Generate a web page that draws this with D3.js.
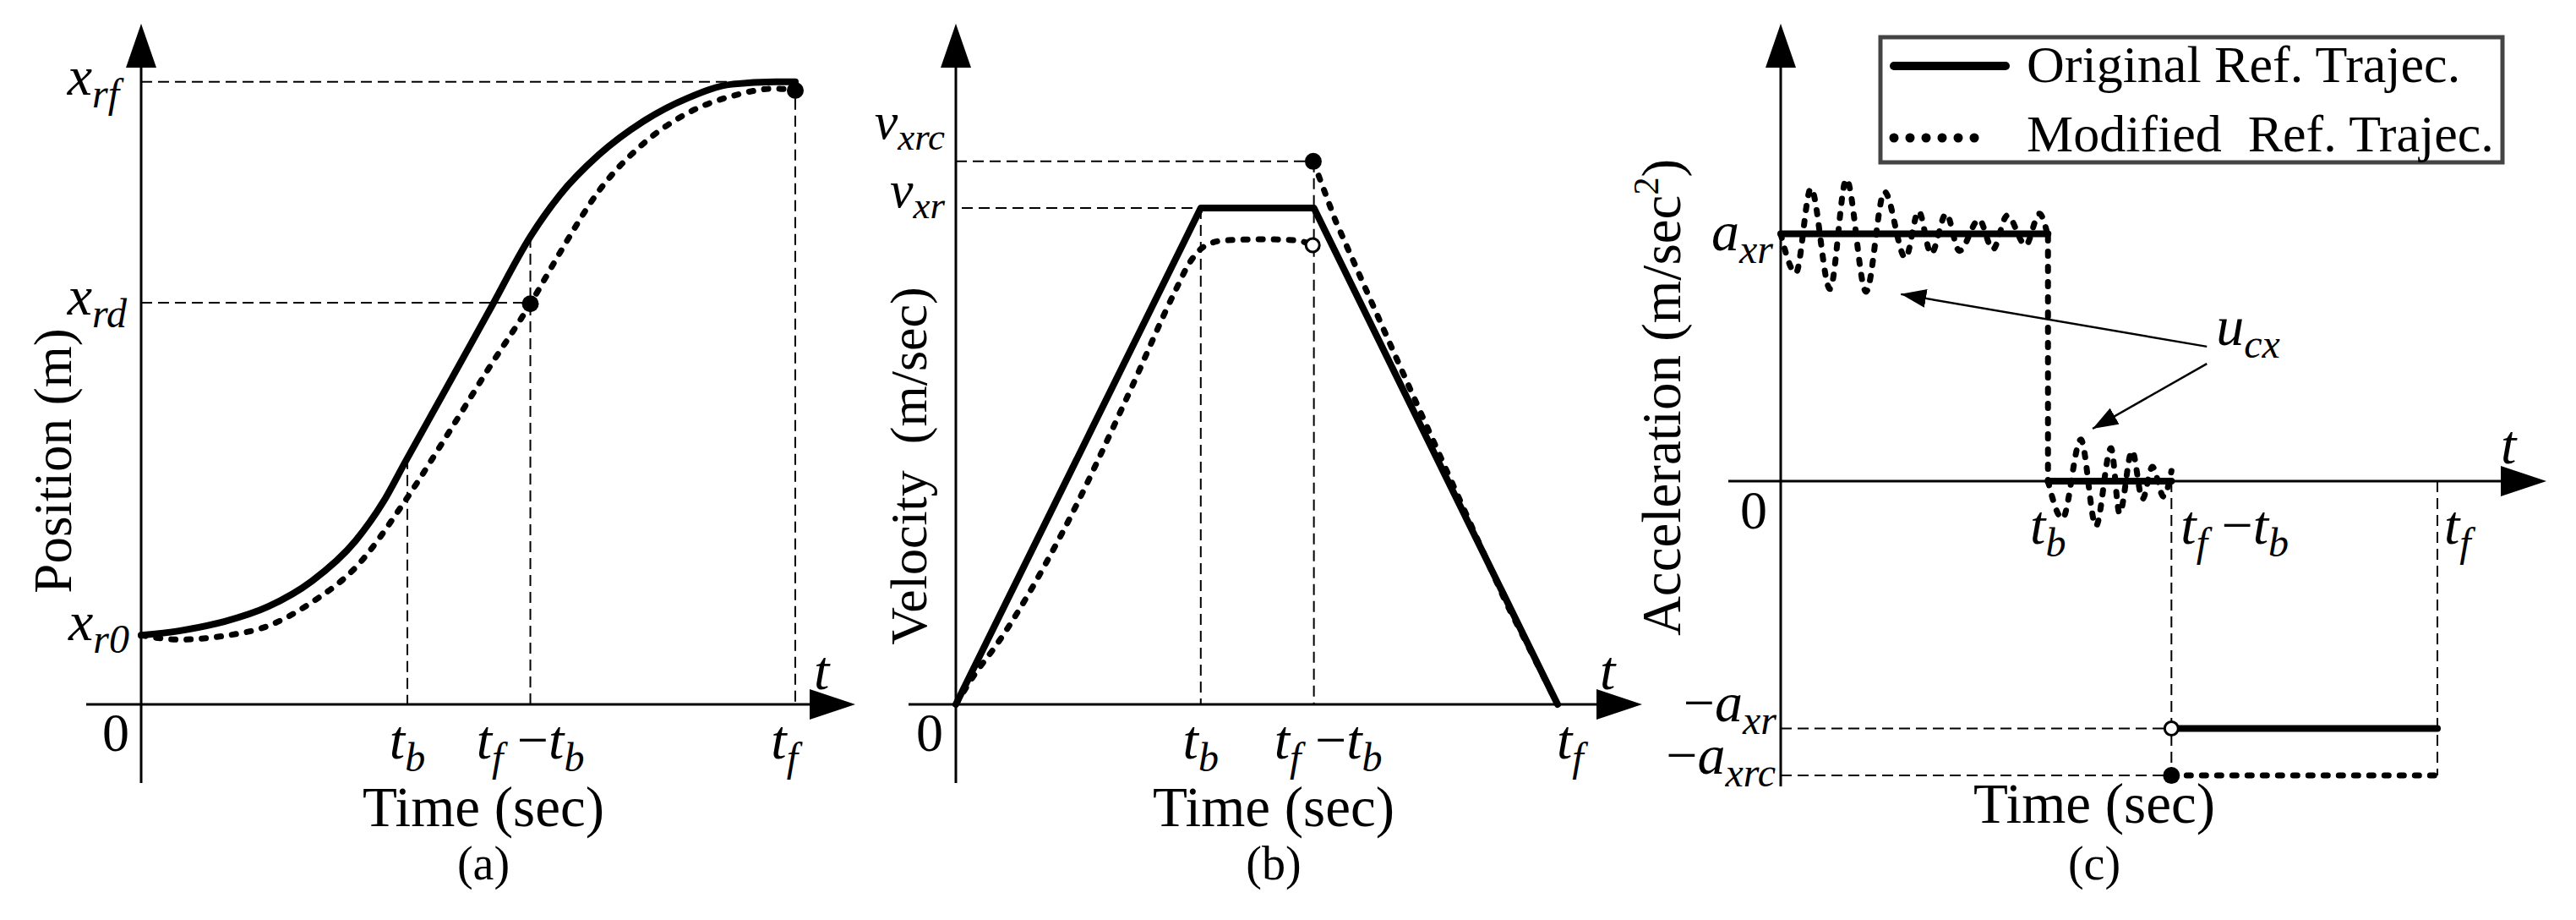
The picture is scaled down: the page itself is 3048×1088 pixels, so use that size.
<!DOCTYPE html>
<html>
<head>
<meta charset="utf-8">
<script src="https://cdn.jsdelivr.net/npm/d3@7"></script>
<style>
  html, body { margin: 0; padding: 0; background: #fff; }
  svg { display: block; }
</style>
</head>
<body>
<svg id="chart"></svg>
<script>
// time ticks: t_b, t_f - t_b, t_f  (t_f scaled to 10)
const timeTicks = [4.07, 5.95, 10];

// (a) position levels: x_r0, x_rd, x_rf  (x_rf scaled to 10)
const posLevels = [1.11, 6.45, 10];
const posOrigTime = [0, 0.58, 1.27, 1.94, 2.61, 3.28, 3.70, 4.03, 4.64, 5.31, 5.96, 6.40, 7.00, 7.67, 8.36, 9.03, 9.70, 10];
const posOriginal = [1.11, 1.18, 1.33, 1.57, 1.98, 2.63, 3.25, 3.88, 5.03, 6.30, 7.53, 8.18, 8.83, 9.36, 9.74, 9.96, 10.0, 10.0];
const posModTime = [0, 0.58, 1.27, 1.94, 2.61, 3.28, 4.03, 4.64, 5.31, 5.96, 6.40, 7.00, 7.67, 8.36, 9.03, 9.70, 10];
const posModified = [1.11, 1.04, 1.10, 1.26, 1.64, 2.20, 3.26, 4.26, 5.39, 6.45, 7.25, 8.25, 9.00, 9.50, 9.77, 9.89, 9.86];

// (b) velocity levels: v_xr, v_xrc  (v_xr scaled to 10)
const velLevels = [10, 10.94];
const velOrigTime = [0, 4.07, 5.95, 10];
const velOriginal = [0, 10, 10, 0];
const velModUpTime = [0, 0.31, 0.67, 1.77, 2.87, 3.65, 3.89, 4.16, 4.48, 5.14, 5.65, 5.93];
const velModUp = [0, 0.60, 1.19, 3.46, 6.25, 8.34, 8.91, 9.25, 9.35, 9.37, 9.35, 9.25];
const velModDownTime = [5.94, 6.31, 7.33, 8.10, 9.13, 10];
const velModDown = [10.94, 9.74, 6.95, 4.86, 2.08, 0];

// (c) acceleration levels: a_xr, -a_xr, -a_xrc  (a_xr scaled to 10)
const accLevels = [10, -10, -11.9];
const accOrigTime = [[0, 4.07], [4.07, 5.95], [5.95, 10]];
const accOriginal = [10, 0, -10];
const accModTime1 = [0, 0.23, 0.46, 0.75, 1.00, 1.30, 1.58, 1.90, 2.10, 2.29, 2.52, 2.72, 3.02, 3.23, 3.45, 3.73, 3.94, 4.07];
const accMod1 = [10.0, 8.42, 11.84, 7.77, 12.21, 7.66, 11.70, 9.03, 10.91, 9.20, 10.81, 9.31, 10.57, 9.37, 10.74, 9.54, 10.81, 9.9];
const accModTime2 = [4.07, 4.29, 4.57, 4.80, 5.03, 5.16, 5.35, 5.51, 5.66, 5.83, 5.95];
const accMod2 = [0, -1.51, 1.68, -1.81, 1.33, -1.30, 1.23, -0.72, 0.58, -0.62, 0.41];
const accModTailTime = [5.95, 10];
const accModTail = [-11.9, -11.9];

// u_cx annotation: label point, arrow tails and tips (data units of panel c)
const ucxLabel = [6.63, 5.5];
const ucxArrows = [[[6.49, 5.44], [1.83, 7.56]], [[6.49, 4.75], [4.75, 2.12]]];

const legendNames = ['Original Ref. Trajec.', 'Modified  Ref. Trajec.'];

const W = 3048, H = 1088;
const FONT = '"Liberation Serif", "Times New Roman", Times, "DejaVu Serif", serif';
const MAIN = 66, SUB = 48, SUBDY = 15;
const [tb, tfmtb, tf] = timeTicks;

const svg = d3.select('#chart').attr('width', W).attr('height', H)
  .attr('font-family', FONT);

svg.append('defs').append('marker')
  .attr('id', 'ah')
  .attr('viewBox', '0 0 30 22')
  .attr('refX', 30).attr('refY', 11)
  .attr('markerWidth', 30).attr('markerHeight', 22)
  .attr('markerUnits', 'userSpaceOnUse')
  .attr('orient', 'auto')
  .append('path').attr('d', 'M0,0L30,11L0,22Z').attr('fill', '#000');

function txt(g) {
  return g.append('text').attr('font-family', FONT).attr('fill', '#000')
    .style('white-space', 'pre');
}

// label with italic letters and subscripts
function mathText(g, parts, x, y, anchor, sz) {
  const main = sz ? sz[0] : MAIN, sub = sz ? sz[1] : SUB, subdy = sz ? sz[2] : SUBDY;
  const t = txt(g).attr('x', x).attr('y', y)
    .attr('text-anchor', anchor || 'start');
  let shift = 0;
  parts.forEach(p => {
    const want = p.sub ? subdy : 0;
    t.append('tspan')
      .attr('dy', want - shift)
      .attr('font-size', p.sub ? sub : main)
      .attr('font-style', p.up ? 'normal' : 'italic')
      .text(p.s);
    shift = want;
  });
  return t;
}

const sym = (a, b) => [{ s: a }, { s: b, sub: true }];
const tbParts = sym('t', 'b');
const tfParts = sym('t', 'f');
const tfmtbParts = [{ s: 't' }, { s: 'f', sub: true }, { s: ' \u2212', up: true }, { s: 't' }, { s: 'b', sub: true }];

function drawAxes(g, x0, y0, lay) {
  g.append('line')
    .attr('x1', x0).attr('x2', x0)
    .attr('y1', lay.yTip + 20).attr('y2', lay.yBottom)
    .attr('stroke', '#000').attr('stroke-width', 3);
  g.append('line')
    .attr('x1', lay.xStart).attr('x2', lay.xTip - 20)
    .attr('y1', y0).attr('y2', y0)
    .attr('stroke', '#000').attr('stroke-width', 3);
  g.append('path')
    .attr('d', `M${x0 - 18},${lay.yTip + 52}L${x0},${lay.yTip}L${x0 + 18},${lay.yTip + 52}Z`);
  g.append('path')
    .attr('d', `M${lay.xTip - 54},${y0 - 18}L${lay.xTip},${y0}L${lay.xTip - 54},${y0 + 18}Z`);
}

function guide(g, x1, y1, x2, y2) {
  g.append('line')
    .attr('x1', x1).attr('y1', y1).attr('x2', x2).attr('y2', y2)
    .attr('stroke', '#000').attr('stroke-width', 2)
    .attr('stroke-dasharray', '13,7');
}

function solidPath(g, d) {
  return g.append('path').attr('d', d)
    .attr('fill', 'none').attr('stroke', '#000')
    .attr('stroke-width', 8)
    .attr('stroke-linecap', 'round').attr('stroke-linejoin', 'round');
}

function dashPath(g, d) {
  return g.append('path').attr('d', d)
    .attr('fill', 'none').attr('stroke', '#000')
    .attr('stroke-width', 7)
    .attr('stroke-dasharray', '5,13')
    .attr('stroke-linecap', 'round');
}

function dot(g, cx, cy, open) {
  g.append('circle').attr('cx', cx).attr('cy', cy)
    .attr('r', open ? 8 : 10)
    .attr('fill', open ? '#fff' : '#000')
    .attr('stroke', '#000').attr('stroke-width', open ? 3 : 0);
}

function vTitle(g, s, bx, cy, size) {
  return txt(g)
    .attr('transform', `translate(${bx},${cy}) rotate(-90)`)
    .attr('text-anchor', 'middle')
    .attr('font-size', size)
    .text(s);
}

function bottomText(g, cx, timeY, capY, cap) {
  txt(g).attr('x', cx).attr('y', timeY)
    .attr('text-anchor', 'middle').attr('font-size', 67).text('Time (sec)');
  txt(g).attr('x', cx).attr('y', capY)
    .attr('text-anchor', 'middle').attr('font-size', 56).text(cap);
}

// ---------- (a) position ----------
{
  const g = svg.append('g');
  const x = d3.scaleLinear().domain([0, 10]).range([167, 941]);
  const y = d3.scaleLinear().domain([0, 10]).range([833, 96.7]);
  const line = d3.line().x(d => x(d[0])).y(d => y(d[1])).curve(d3.curveMonotoneX);
  const origAt = d3.scaleLinear().domain(posOrigTime).range(posOriginal);
  const modAt = d3.scaleLinear().domain(posModTime).range(posModified);
  const [r0, rd, rf] = posLevels;

  guide(g, x(0), y(rf), x(tf), y(rf));
  guide(g, x(tf), y(rf), x(tf), y(0));
  guide(g, x(0), y(rd), x(tfmtb), y(rd));
  guide(g, x(tb), y(origAt(tb)), x(tb), y(0));
  guide(g, x(tfmtb), y(origAt(tfmtb)), x(tfmtb), y(0));

  drawAxes(g, x(0), y(0), { xStart: 102, xTip: 1012, yTip: 28, yBottom: 926 });

  solidPath(g, line(d3.zip(posOrigTime, posOriginal)));
  dashPath(g, line(d3.zip(posModTime, posModified)));
  dot(g, x(tfmtb), y(modAt(tfmtb)));
  dot(g, x(tf), y(posModified[posModified.length - 1]));

  mathText(g, sym('x', 'rf'), 141, y(rf) + 15, 'end');
  mathText(g, sym('x', 'rd'), 150, y(rd) + 14, 'end');
  mathText(g, sym('x', 'r0'), 153, y(r0) + 6, 'end');

  const ty = y(0) + 64;
  mathText(g, tbParts, x(tb), ty, 'middle');
  mathText(g, tfmtbParts, x(tfmtb), ty, 'middle');
  mathText(g, tfParts, x(tf) + 3, ty, 'end');
  txt(g).attr('x', 153).attr('y', y(0) + 55)
    .attr('text-anchor', 'end').attr('font-size', 64).text('0');
  txt(g).attr('x', 963).attr('y', y(0) - 18)
    .attr('font-size', MAIN).attr('font-style', 'italic').text('t');

  vTitle(g, 'Position (m)', 84, 545, 63);
  bottomText(g, 572, 977, 1040, '(a)');
}

// ---------- (b) velocity ----------
{
  const g = svg.append('g');
  const x = d3.scaleLinear().domain([0, 10]).range([1131, 1843]);
  const y = d3.scaleLinear().domain([0, 10]).range([833, 246]);
  const line = d3.line().x(d => x(d[0])).y(d => y(d[1]));
  const smooth = d3.line().x(d => x(d[0])).y(d => y(d[1])).curve(d3.curveMonotoneX);
  const [vxr, vxrc] = velLevels;

  guide(g, x(0), y(vxrc), x(tfmtb), y(vxrc));
  guide(g, x(0) + 7, y(vxr), x(tb), y(vxr));
  guide(g, x(tb), y(vxr), x(tb), y(0));
  guide(g, x(tfmtb), y(vxrc), x(tfmtb), y(0));

  drawAxes(g, x(0), y(0), { xStart: 1075, xTip: 1943, yTip: 28, yBottom: 926 });

  solidPath(g, line(d3.zip(velOrigTime, velOriginal)));
  dashPath(g, smooth(d3.zip(velModUpTime, velModUp)));
  dashPath(g, line(d3.zip(velModDownTime, velModDown)));
  dot(g, x(velModUpTime[velModUpTime.length - 1]), y(velModUp[velModUp.length - 1]), true);
  dot(g, x(velModDownTime[0]), y(velModDown[0]));

  const vSize = [62, 45, 13];
  mathText(g, [{ s: 'v' }, { s: 'xrc', sub: true }], 1118, y(vxrc) - 27, 'end', vSize);
  mathText(g, [{ s: 'v' }, { s: 'xr', sub: true }], 1118, y(vxr) - 1, 'end', vSize);

  const ty = y(0) + 64;
  mathText(g, tbParts, x(tb), ty, 'middle');
  mathText(g, tfmtbParts, x(tfmtb) + 17, ty, 'middle');
  mathText(g, tfParts, x(tf) - 1, ty, 'start');
  txt(g).attr('x', 1116).attr('y', y(0) + 55)
    .attr('text-anchor', 'end').attr('font-size', 64).text('0');
  txt(g).attr('x', 1893).attr('y', y(0) - 18)
    .attr('font-size', MAIN).attr('font-style', 'italic').text('t');

  vTitle(g, 'Velocity  (m/sec)', 1096, 551, 62);
  bottomText(g, 1507, 977, 1040, '(b)');
}

// ---------- (c) acceleration ----------
{
  const g = svg.append('g');
  const x = d3.scaleLinear().domain([0, 10]).range([2107, 2884]);
  const y = d3.scaleLinear().domain([0, 10]).range([569, 276.5]);
  const line = d3.line().x(d => x(d[0])).y(d => y(d[1]));
  const smooth = d3.line().x(d => x(d[0])).y(d => y(d[1])).curve(d3.curveMonotoneX);
  const [axr, naxr, naxrc] = accLevels;

  guide(g, x(0), y(naxr), x(tfmtb), y(naxr));
  guide(g, x(0), y(naxrc), x(tfmtb), y(naxrc));
  guide(g, x(tfmtb), y(0), x(tfmtb), y(naxrc));
  guide(g, x(tf), y(0), x(tf), y(naxrc));

  drawAxes(g, x(0), y(0), { xStart: 2045, xTip: 3013, yTip: 28, yBottom: 930 });

  accOrigTime.forEach((seg, i) => {
    solidPath(g, line(seg.map(t => [t, accOriginal[i]])));
  });
  dashPath(g, smooth(d3.zip(accModTime1, accMod1)));
  dashPath(g, line([[accModTime1[accModTime1.length - 1], accMod1[accMod1.length - 1]], [accModTime2[0], accMod2[0]]]));
  dashPath(g, smooth(d3.zip(accModTime2, accMod2)));
  dashPath(g, line(d3.zip(accModTailTime, accModTail)));
  dot(g, x(accOrigTime[2][0]), y(accOriginal[2]), true);
  dot(g, x(accModTailTime[0]), y(accModTail[0]));

  mathText(g, [{ s: 'a' }, { s: 'xr', sub: true }], 2098, y(axr) + 19, 'end');
  mathText(g, [{ s: '\u2212', up: true }, { s: 'a' }, { s: 'xr', sub: true }], 2102, y(naxr) - 9, 'end');
  mathText(g, [{ s: '\u2212', up: true }, { s: 'a' }, { s: 'xrc', sub: true }], 2101, y(naxrc) - 2, 'end');

  const ty = y(0) + 74;
  mathText(g, tbParts, x(tb), ty, 'middle');
  mathText(g, tfmtbParts, x(tfmtb) + 11, ty, 'start');
  mathText(g, tfParts, x(tf) + 8, ty, 'start');
  txt(g).attr('x', 2091).attr('y', y(0) + 56)
    .attr('text-anchor', 'end').attr('font-size', 64).text('0');
  txt(g).attr('x', 2959).attr('y', y(0) - 21)
    .attr('font-size', MAIN).attr('font-style', 'italic').text('t');

  // u_cx annotation
  mathText(g, [{ s: 'u' }, { s: 'cx', sub: true }], x(ucxLabel[0]), y(ucxLabel[1]), 'start');
  ucxArrows.forEach(a => {
    g.append('line')
      .attr('x1', x(a[0][0])).attr('y1', y(a[0][1]))
      .attr('x2', x(a[1][0])).attr('y2', y(a[1][1]))
      .attr('stroke', '#000').attr('stroke-width', 2.5)
      .attr('marker-end', 'url(#ah)');
  });

  const yt = vTitle(g, '', 1988, 470, 65);
  yt.append('tspan').text('Acceleration (m/sec');
  yt.append('tspan').attr('font-size', 42).attr('dy', -26).text('2');
  yt.append('tspan').attr('dy', 26).text(')');

  bottomText(g, 2478, 973, 1040, '(c)');

  // legend
  const lg = g.append('g');
  lg.append('rect').attr('x', 2225).attr('y', 44).attr('width', 736).attr('height', 148)
    .attr('fill', '#fff').attr('stroke', '#444').attr('stroke-width', 5);
  lg.append('line').attr('x1', 2241).attr('x2', 2373).attr('y1', 78).attr('y2', 78)
    .attr('stroke', '#000').attr('stroke-width', 10).attr('stroke-linecap', 'round');
  lg.append('line').attr('x1', 2241).attr('x2', 2355).attr('y1', 163).attr('y2', 163)
    .attr('stroke', '#000').attr('stroke-width', 11)
    .attr('stroke-dasharray', '0,19').attr('stroke-linecap', 'round');
  legendNames.forEach((name, i) => {
    txt(lg).attr('x', 2398).attr('y', i ? 179 : 97)
      .attr('font-size', 62)
      .text(name);
  });
}
</script>
</body>
</html>
